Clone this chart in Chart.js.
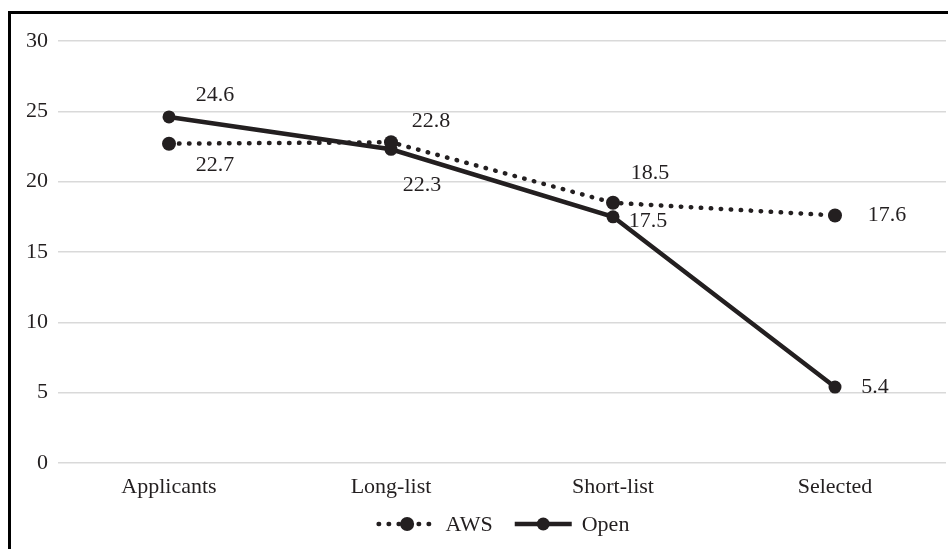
<!DOCTYPE html>
<html>
<head>
<meta charset="utf-8">
<script src="https://cdn.jsdelivr.net/npm/chart.js@4.4.1/dist/chart.umd.min.js"></script>
<style>
  html, body { margin: 0; padding: 0; background: #fff; }
  #wrap { position: relative; width: 948px; height: 549px; overflow: hidden; }
  #frame { position: absolute; left: 8px; top: 11px; right: -10px; bottom: -10px;
           border-top: 3px solid #000; border-left: 3px solid #000; pointer-events: none; }
  canvas { position: absolute; left: 0; top: 0; }
</style>
</head>
<body>
<div id="wrap">
  <canvas id="chart" width="953" height="549"></canvas>
  <div id="frame"></div>
</div>
<script>
// Data
const categories = ['Applicants', 'Long-list', 'Short-list', 'Selected'];
const awsValues = [22.7, 22.8, 18.5, 17.6];
const openValues = [24.6, 22.3, 17.5, 5.4];
const yTicks = [0, 5, 10, 15, 20, 25, 30];

const ink = '#231f20';
const fontFamily = '"Liberation Serif", "Times New Roman", serif';
const fontSize = 22;

// Label placement per point, [dx, dy] from the point centre
const labelOffsets = {
    AWS: [[46, 22], [40, -21], [37, -30], [52, 0]],
    Open: [[46, -22], [31, 36], [35, 4], [40, 0]]
};

// Value labels next to each point
const valueLabels = {
    id: 'valueLabels',
    afterDatasetsDraw(chart) {
        const ctx = chart.ctx;
        ctx.save();
        ctx.font = fontSize + 'px ' + fontFamily;
        ctx.fillStyle = ink;
        ctx.textAlign = 'center';
        ctx.textBaseline = 'middle';
        chart.data.datasets.forEach((ds, i) => {
            const meta = chart.getDatasetMeta(i);
            meta.data.forEach((pt, j) => {
                const off = labelOffsets[ds.label][j];
                ctx.fillText(ds.data[j].toFixed(1), pt.x + off[0], pt.y + off[1]);
            });
        });
        ctx.restore();
    }
};

// Legend drawn under the axis labels
const bottomLegend = {
    id: 'bottomLegend',
    afterDraw(chart) {
        const ctx = chart.ctx;
        const area = chart.chartArea;
        const y = 524;
        const sampleW = 57, gapText = 10, gapItem = 22;
        ctx.save();
        ctx.font = fontSize + 'px ' + fontFamily;
        ctx.textBaseline = 'middle';
        const items = chart.data.datasets.map(ds => ({ ds, w: sampleW + gapText + ctx.measureText(ds.label).width }));
        const total = items.reduce((s, it) => s + it.w, 0) + gapItem * (items.length - 1);
        let x = (area.left + area.right) / 2 - total / 2 + 2;
        items.forEach(it => {
            const ds = it.ds;
            ctx.strokeStyle = ink;
            ctx.fillStyle = ink;
            ctx.lineWidth = ds.borderWidth;
            ctx.lineCap = ds.borderCapStyle || 'butt';
            ctx.setLineDash(ds.borderDash || []);
            ctx.beginPath();
            ctx.moveTo(x, y);
            ctx.lineTo(x + sampleW, y);
            ctx.stroke();
            ctx.setLineDash([]);
            ctx.beginPath();
            ctx.arc(x + sampleW / 2, y, ds.pointRadius, 0, Math.PI * 2);
            ctx.fill();
            ctx.fillText(ds.label, x + sampleW + gapText, y + 1);
            x += it.w + gapItem;
        });
        ctx.restore();
    }
};

new Chart(document.getElementById('chart').getContext('2d'), {
    type: 'line',
    data: {
        labels: categories,
        datasets: [
            { label: 'AWS', data: awsValues, borderColor: ink, backgroundColor: ink, borderWidth: 4.5,
              borderDash: [0.5, 9.5], borderCapStyle: 'round', pointRadius: 7, pointBackgroundColor: ink,
              pointBorderWidth: 0, tension: 0 },
            { label: 'Open', data: openValues, borderColor: ink, backgroundColor: ink, borderWidth: 4.5,
              pointRadius: 6.5, pointBackgroundColor: ink, pointBorderWidth: 0, tension: 0 }
        ]
    },
    options: {
        responsive: false,
        animation: false,
        layout: { padding: { top: 41, right: 0, left: 0, bottom: 0 } },
        plugins: { legend: { display: false }, tooltip: { enabled: false } },
        scales: {
            x: {
                offset: true,
                grid: { display: false },
                border: { display: false },
                ticks: { color: ink, padding: 3, maxRotation: 0, font: { family: fontFamily, size: fontSize } },
                afterFit(scale) {
                    scale.height = 86;
                    scale.paddingLeft = 0;
                    scale.paddingRight = 0;
                }
            },
            y: {
                min: 0, max: 30,
                afterBuildTicks(scale) { scale.ticks = yTicks.map(v => ({ value: v })); },
                grid: { color: '#d9d9d9', lineWidth: 1.5, drawTicks: false },
                border: { display: false },
                ticks: { color: ink, padding: 10, font: { family: fontFamily, size: fontSize } },
                afterFit(scale) { scale.width = 58; }
            }
        }
    },
    plugins: [valueLabels, bottomLegend]
});
</script>
</body>
</html>
